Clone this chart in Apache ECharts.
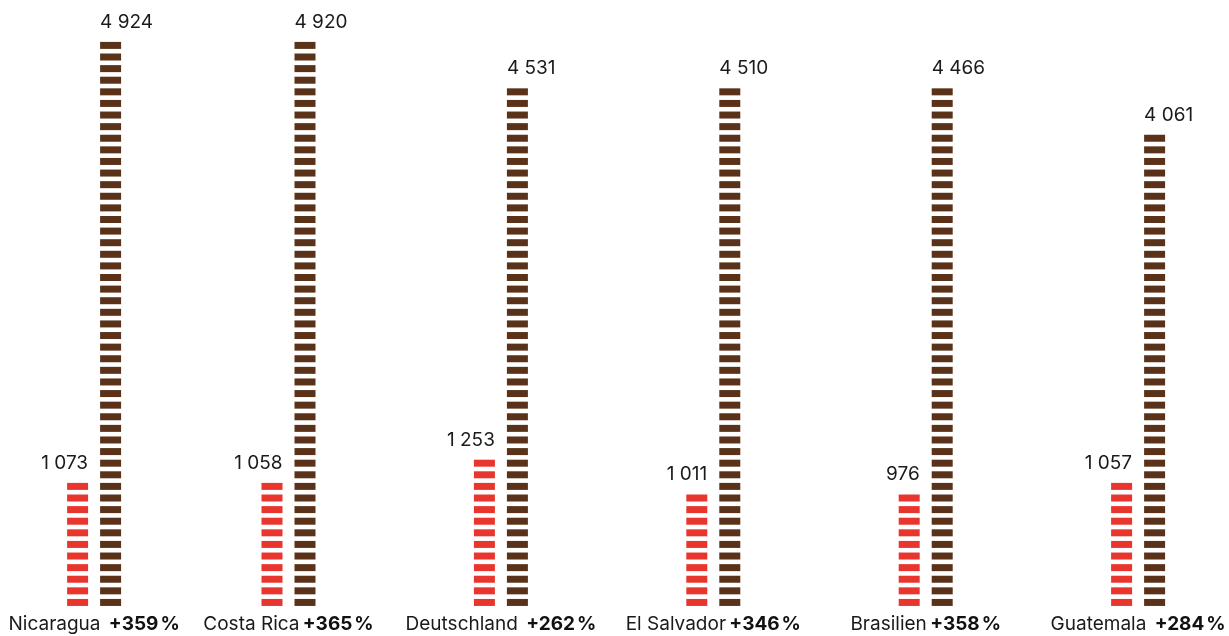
<!DOCTYPE html>
<html>
<head>
<meta charset="utf-8">
<script src="https://cdn.jsdelivr.net/npm/echarts@6/dist/echarts.min.js"></script>
<style>
  html, body { margin: 0; padding: 0; background: #fff; }
  #chart { width: 1229px; height: 636px; }
</style>
</head>
<body>
<div id="chart"></div>
<script>
var countries = ['Nicaragua', 'Costa Rica', 'Deutschland', 'El Salvador', 'Brasilien', 'Guatemala'];
var before = [1073, 1058, 1253, 1011, 976, 1057];
var after = [4924, 4920, 4531, 4510, 4466, 4061];
var growth = ['+359', '+365', '+262', '+346', '+358', '+284'];

var STEP = 100;          // one block stands for 100
var FONT = 'Inter';
var RED = '#e8352d';
var BROWN = '#5a3219';

function fmt(v) {
    return String(v).replace(/\B(?=(\d{3})+(?!\d))/g, ' ');
}

// blocks per bar, first group is pushed a bit to the right like the original
function blocks(values, labelShift) {
    return values.map(function (v, i) {
        var n = Math.round(v / STEP);
        var item = {
            value: n * STEP,
            symbolRepeat: n,
            symbolBoundingData: n * STEP
        };
        if (i === 0) {
            item.symbolOffset = [18, 0];
            item.label = { offset: [labelShift + 18, 0] };
        }
        return item;
    });
}

var chart = echarts.init(document.getElementById('chart'));

var option = {
    animation: false,
    grid: {
        left: -30.1,
        right: -15.3,
        top: 28,
        bottom: 27.75,
        containLabel: false,
        outerBoundsMode: 'none'
    },
    xAxis: {
        type: 'category',
        data: countries.map(function (c, i) {
            return i === 0 ? { value: c, textStyle: { padding: [0, 0, 0, 36] } } : c;
        }),
        axisLine: { show: false },
        axisTick: { show: false },
        axisLabel: {
            margin: 7,
            interval: 0,
            formatter: function (value, idx) {
                // some labels have a wider gap in the original
                var p = (idx === 0 || idx === 2 || idx === 5) ? 'pw' : 'p';
                return '{n|' + value + '} {' + p + '|' + growth[idx] + '}{pc|%}';
            },
            rich: {
                n: { fontFamily: FONT, fontSize: 19, color: '#1a1a1a' },
                p: { fontFamily: FONT, fontSize: 19, fontWeight: 'bold', color: '#111' },
                pw: { fontFamily: FONT, fontSize: 19, fontWeight: 'bold', color: '#111', padding: [0, 0, 0, 5] },
                pc: { fontFamily: FONT, fontSize: 19, fontWeight: 'bold', color: '#111', padding: [0, 0, 0, 2] }
            }
        }
    },
    yAxis: {
        type: 'value',
        min: 0,
        max: 5000,
        show: false
    },
    series: [
        {
            name: 'vorher',
            type: 'pictorialBar',
            barWidth: 21,
            barGap: '57.14%',
            symbol: 'rect',
            symbolSize: [21, 7],
            symbolMargin: '0!',
            symbolPosition: 'start',
            itemStyle: { color: RED },
            label: {
                show: true,
                position: 'top',
                distance: 8,
                align: 'right',
                offset: [10.5, 0],
                fontFamily: FONT,
                fontSize: 19,
                color: '#1a1a1a',
                formatter: function (p) { return fmt(before[p.dataIndex]); }
            },
            data: blocks(before, 10.5)
        },
        {
            name: 'nachher',
            type: 'pictorialBar',
            barWidth: 21,
            barGap: '57.14%',
            symbol: 'rect',
            symbolSize: [21, 7],
            symbolMargin: '0!',
            symbolPosition: 'start',
            itemStyle: { color: BROWN },
            label: {
                show: true,
                position: 'top',
                distance: 8,
                align: 'left',
                offset: [-10.5, 0],
                fontFamily: FONT,
                fontSize: 19,
                color: '#1a1a1a',
                formatter: function (p) { return fmt(after[p.dataIndex]); }
            },
            data: blocks(after, -10.5)
        }
    ]
};

chart.setOption(option);
</script>
</body>
</html>
